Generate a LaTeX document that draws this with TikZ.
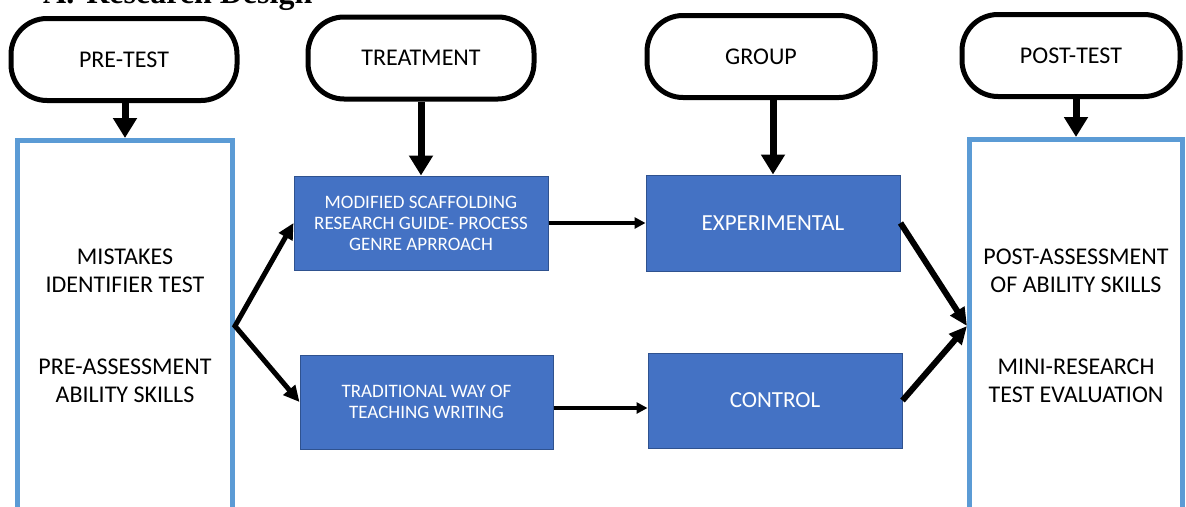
\documentclass[tikz,border=0pt]{standalone}
\usepackage{fontspec}
\setmainfont{Carlito}
\newfontfamily\headfont{Liberation Serif}
\usetikzlibrary{
    arrows.meta,
    calc,
    positioning
}
\definecolor{boxblue}{HTML}{4472C4}
\definecolor{boxedge}{HTML}{2F528F}
\definecolor{testblue}{HTML}{5B9BD5}
\tikzset{
    every picture/.style = {
        x = 1pt,
        y = -1pt
    },
    terminal/.style = {
        draw,
        line width = 5pt,
        rounded corners = 36pt,
        minimum width = 226pt,
        minimum height = 82pt,
        inner sep = 0pt,
        font = \fontsize{24}{28}\selectfont
    },
    testbox/.style = {
        draw = testblue,
        line width = 5pt,
        minimum width = 215pt,
        minimum height = 371pt,
        inner sep = 0pt,
        align = center,
        font = \fontsize{24}{28}\selectfont
    },
    groupbox/.style = {
        draw = boxedge,
        fill = boxblue,
        line width = 1pt,
        minimum width = 254pt,
        minimum height = 95pt,
        inner sep = 0pt,
        align = center,
        text = white,
        font = \fontsize{19}{21}\selectfont
    },
    down arrow/.style = {
        ->,
        line width = 7pt,
        > = {Triangle[length = 20pt, width = 23pt]}
    },
    flow arrow/.style = {
        ->,
        line width = 4pt,
        > = {Triangle[length = 11pt, width = 11pt]}
    },
    fork arrow/.style = {
        <->,
        line width = 5pt,
        miter limit = 4,
        > = {Triangle[length = 16pt, width = 15pt]}
    },
    merge arrow/.style = {
        ->,
        line width = 6pt,
        > = {Triangle[length = 18pt, width = 16pt]}
    }
}

\begin{document}
\begin{tikzpicture}
    % \draw[step = 100pt, lightgray, very thin] (0, 0) grid (1186, 506);
    \useasboundingbox (0, 0) rectangle (1186, 506);
    \clip (0, 0) rectangle (1186, 506);

    \node[anchor = base west, inner sep = 0pt, font = \headfont\bfseries\fontsize{32}{36}\selectfont] (heading) at (43, 4) {A.\hspace{12pt}Research Design};

    \node[terminal] (pre) at (124, 59.5) {PRE-TEST};
    \node[terminal] (treat) at (421, 58) {TREATMENT};
    \node[terminal, minimum width = 228pt] (grp) at (761, 56.5) {GROUP};
    \node[terminal, minimum width = 218pt] (post) at (1071, 55.5) {POST-TEST};

    \node[testbox] (prebox) at (125, 326) {MISTAKES\\IDENTIFIER TEST\\[54pt]PRE-ASSESSMENT\\ABILITY SKILLS};
    \node[testbox, minimum width = 213pt, minimum height = 373pt] (postbox) at (1076, 326) {POST-ASSESSMENT\\OF ABILITY SKILLS\\[54pt]MINI-RESEARCH\\TEST EVALUATION};

    \node[groupbox, minimum height = 94pt] (mod) at (421, 223) {MODIFIED SCAFFOLDING\\RESEARCH GUIDE- PROCESS\\GENRE APRROACH};
    \node[groupbox, minimum height = 96pt, font = \fontsize{23}{27}\selectfont] (exp) at (773, 223) {EXPERIMENTAL};
    \node[groupbox, minimum width = 253pt, minimum height = 94pt] (trad) at (426.5, 402) {TRADITIONAL WAY OF\\TEACHING WRITING};
    \node[groupbox, font = \fontsize{23}{27}\selectfont] (ctrl) at (775, 400.5) {CONTROL};

    \path[down arrow] (prebox.north |- pre.south) edge (prebox.north);
    \path[down arrow] (treat.south) edge (mod.north);
    \path[down arrow] (exp.north |- grp.south) edge (exp.north);
    \path[down arrow] (postbox.north |- post.south) edge (postbox.north);

    \draw[fork arrow] (mod.west) -- (prebox.east) -- (trad.west);

    \path[flow arrow] (mod.east) edge (exp.west);
    \path[flow arrow] ([yshift = -6pt]trad.east) edge ([yshift = -6pt]trad.east -| ctrl.west);

    \path[merge arrow] (exp.east) edge (postbox.west);
    \path[merge arrow] (ctrl.east) edge (postbox.west);
\end{tikzpicture}
\end{document}
